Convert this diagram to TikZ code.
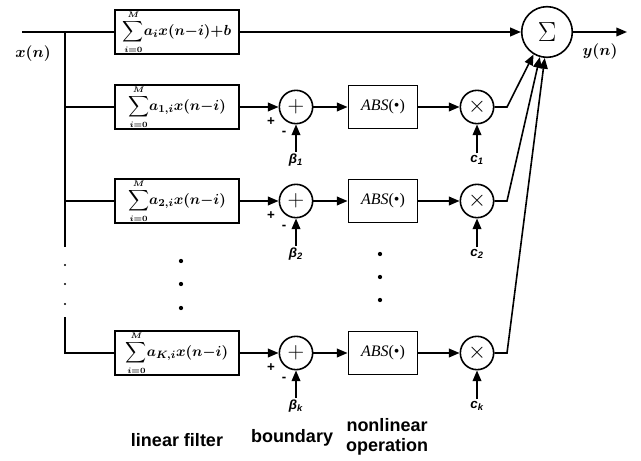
\documentclass[tikz,border=0pt]{standalone}
\usepackage{amsmath}
\usepackage[no-math]{fontspec}
\setmainfont{Liberation Sans}
\newfontfamily\serifit{Liberation Serif}
\usetikzlibrary{arrows.meta}
\newcommand{\filt}[1]{$\displaystyle\sum\limits_{\scriptscriptstyle i=0}^{\scriptscriptstyle M}\!#1x(n{-}i)$}

\begin{document}
\begin{tikzpicture}[x=0.75pt,y=-0.75pt,line width=1.2pt,
		>={Triangle[length=8pt,width=6.5pt]},
		filterbox/.style={draw, minimum width=93pt, minimum height=31.5pt, inner sep=0pt, font=\fontsize{10.95}{12}\selectfont\boldmath},
		absbox/.style={draw, minimum width=52pt, minimum height=32pt, inner sep=0pt, font=\serifit\fontsize{12}{14}\selectfont},
		opcirc/.style={draw, circle, minimum size=25pt, inner sep=0pt, font=\fontsize{17}{18}\selectfont},
		coef/.style={font=\bfseries\itshape\fontsize{10}{12}\selectfont, inner sep=1pt},
		sgn/.style={font=\bfseries\fontsize{10}{12}\selectfont, inner sep=0pt},
		signal/.style={font=\fontsize{14.4}{16}\selectfont\boldmath, scale=0.82},
		caption/.style={font=\bfseries\fontsize{13.5}{15}\selectfont, align=center}]
		\useasboundingbox (0,0) rectangle (641,460);
		% filters
		\draw (177,32) node [filterbox] (f0) {\filt{a_i}${}{+}b$};
		\draw (177,107) node [filterbox] (f1) {\filt{a_{1,i}}};
		\draw (177,201) node [filterbox] (f2) {\filt{a_{2,i}}};
		\draw (177,353) node [filterbox] (fK) {\filt{a_{K,i}}};
		% boundary
		\draw (296,107) node [opcirc] (add1) {$+$};
		\draw (296,201) node [opcirc] (add2) {$+$};
		\draw (296,353) node [opcirc] (addK) {$+$};
		\draw (296,160) node [coef] (beta1) {β\textsubscript{1}};
		\draw (296,254) node [coef] (beta2) {β\textsubscript{2}};
		\draw (296,406) node [coef] (betaK) {β\textsubscript{k}};
		\draw (271,122) node [sgn] (p1) {+} (284,133) node [sgn] (m1) {-};
		\draw (271,216) node [sgn] (p2) {+} (284,227) node [sgn] (m2) {-};
		\draw (271,368) node [sgn] (pK) {+} (284,379) node [sgn] (mK) {-};
		% nonlinear operation
		\draw (383,107) node [absbox] (abs1) {\textit{ABS}(•)};
		\draw (383,201) node [absbox] (abs2) {\textit{ABS}(•)};
		\draw (383,353) node [absbox] (absK) {\textit{ABS}(•)};
		\draw (477,107) node [opcirc] (mul1) {$\times$};
		\draw (477,201) node [opcirc] (mul2) {$\times$};
		\draw (477,353) node [opcirc] (mulK) {$\times$};
		\draw (477,160) node [coef] (c1) {c\textsubscript{1}};
		\draw (477,254) node [coef] (c2) {c\textsubscript{2}};
		\draw (477,406) node [coef] (cK) {c\textsubscript{k}};
		% sum and signals
		\draw (547,32) node [opcirc, minimum size=38pt, font=\fontsize{20}{22}\selectfont] (sig) {$\Sigma$};
		\draw (33,54) node [signal] (xn) {$x(n)$};
		\draw (600,52) node [signal] (yn) {$y(n)$};
		\coordinate (xin) at (22,32);
		\coordinate (bus) at (65,32);
		\coordinate (gap1) at (65,247);
		\coordinate (gap2) at (65,317);
		\coordinate (yout) at (627,32);
		% input bus
		\draw (xin) -- (f0);
		\draw (bus) -- (gap1);
		\draw (gap2) -- (fK.west -| gap2) -- (fK);
		\draw (f1.west -| bus) -- (f1);
		\draw (f2.west -| bus) -- (f2);
		\fill (65,265) circle (0.8pt) (65,284) circle (0.8pt) (65,304) circle (0.8pt);
		\fill (181,261) circle (1.6pt) (181,284) circle (1.6pt) (181,308) circle (1.6pt);
		\fill (380,254) circle (1.6pt) (380,277) circle (1.6pt) (380,300) circle (1.6pt);
		\path[->]
			(f0) edge (sig)
			(sig) edge (yout)
			(f1) edge (add1)
			(add1) edge (abs1)
			(abs1) edge (mul1)
			(beta1) edge (add1)
			(c1) edge (mul1)
			(f2) edge (add2)
			(add2) edge (abs2)
			(abs2) edge (mul2)
			(beta2) edge (add2)
			(c2) edge (mul2)
			(fK) edge (addK)
			(addK) edge (absK)
			(absK) edge (mulK)
			(betaK) edge (addK)
			(cK) edge (mulK);
		\draw[->] (mul1) -- ++(30,0) -- (sig.239);
		\draw[->] (mul2) -- ++(30,0) -- (sig.254);
		\draw[->] (mulK) -- ++(30,0) -- (sig.265);
		% captions
		\draw (177,440) node [caption] (lin) {linear filter};
		\draw (292,438) node [caption] (bnd) {boundary};
		\draw (387,437) node [caption] (nlin) {nonlinear\\operation};
	\end{tikzpicture}
\end{document}
